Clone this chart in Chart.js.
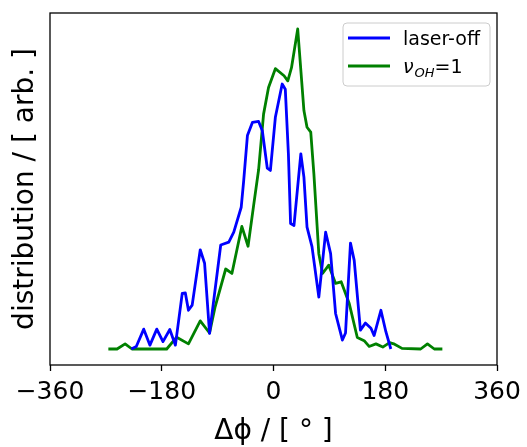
<!DOCTYPE html>
<html>
<head>
<meta charset="utf-8">
<script src="https://cdn.jsdelivr.net/npm/chart.js@4.4.0/dist/chart.umd.min.js"></script>
<style>
  html, body { margin: 0; padding: 0; background: #fff; }
</style>
</head>
<body>
<canvas id="chart" width="527" height="447"></canvas>
<script>
// laser-off (blue)
const laserOffDeg = [-229, -221, -209, -199, -188, -178, -167, -158, -147, -142, -137, -131, -118, -111, -103, -85,
  -72, -64, -52, -48, -42, -34, -24, -18, -10, -5, 3, 14, 19, 24, 27.5, 33, 44, 49, 54, 62, 73, 84, 92, 100,
  111, 116, 124, 130, 140, 148, 157, 162, 173, 181, 189];
const laserOffDist = [0, 0.8, 6.2, 1.2, 6.2, 2.3, 6.1, 1.2, 17.4, 17.5, 12.1, 13.7, 31.0, 26.8, 4.9, 32.5,
  33.4, 36.5, 44.3, 52.6, 66.7, 70.8, 71.1, 68.2, 56.5, 55.8, 72.4, 82.8, 81.2, 61.0, 39.2, 38.6, 61.0, 53.7, 38.1, 32.0, 16.2, 36.5, 29.8, 11.1,
  2.8, 5.0, 33.1, 27.7, 5.9, 8.1, 6.5, 4.2, 12.1, 5.4, 0];

// nu_OH = 1 (green)
const vohDeg = [-266, -252, -239, -228, -172, -156, -137, -118, -103, -94, -77, -67, -51, -41, -32, -24, -16, -8,
  3, 17, 23, 29, 39, 49, 54, 60, 65, 73, 79, 89, 100, 109, 122, 135, 146, 154, 165, 176, 187, 195, 207,
  237, 248, 259, 272];
const vohDist = [0, 0, 1.6, 0, 0, 3.7, 1.6, 8.8, 5.0, 13.2, 25.0, 23.6, 38.3, 32.1, 44.9, 56.0, 73.4, 81.7,
  87.6, 85.4, 83.8, 87.9, 100, 74.5, 69.3, 67.8, 54.9, 29.8, 23.6, 26.2, 20.5, 21.0, 14.2, 3.6, 2.6, 0.8, 1.6, 0.6, 2.0, 1.5, 0.2,
  0, 1.6, 0, 0];

const xTicks = [-360, -180, 0, 180, 360];

const FONT = 'DejaVu Sans';
const toPoints = (xs, ys) => xs.map((x, i) => ({ x, y: ys[i] }));
const fmtTick = (v) => (v < 0 ? '\u2212' + Math.abs(v) : String(v));

// top/right spines and the legend box
const framePlugin = {
  id: 'frame',
  afterDraw(chart) {
    const { ctx, chartArea: a } = chart;
    ctx.save();
    ctx.strokeStyle = '#000';
    ctx.lineWidth = 1.3;
    ctx.strokeRect(a.left, a.top, a.right - a.left, a.bottom - a.top);

    // legend
    const bx = a.right - 154, by = a.top + 10, bw = 147, bh = 63;
    ctx.fillStyle = 'rgba(255,255,255,0.8)';
    ctx.strokeStyle = '#cccccc';
    ctx.lineWidth = 1;
    ctx.beginPath();
    ctx.roundRect(bx, by, bw, bh, 4);
    ctx.fill();
    ctx.stroke();

    const rows = [{ color: '#0000ff', y: by + 15 }, { color: '#008000', y: by + 43 }];
    rows.forEach(r => {
      ctx.strokeStyle = r.color;
      ctx.lineWidth = 3;
      ctx.beginPath();
      ctx.moveTo(bx + 5, r.y);
      ctx.lineTo(bx + 47, r.y);
      ctx.stroke();
    });

    ctx.fillStyle = '#000';
    ctx.textBaseline = 'alphabetic';
    const tx = bx + 60;
    ctx.font = '19px "' + FONT + '"';
    ctx.fillText('laser-off', tx, rows[0].y + 7);

    let x = tx;
    const base = rows[1].y + 7;
    ctx.font = 'italic 19px "' + FONT + '"';
    ctx.fillText('\u03bd', x, base);
    x += ctx.measureText('\u03bd').width + 1;
    ctx.font = 'italic 13px "' + FONT + '"';
    ctx.fillText('OH', x, base + 4);
    x += ctx.measureText('OH').width;
    ctx.font = '19px "' + FONT + '"';
    ctx.fillText('=1', x, base);
    ctx.restore();
  }
};

new Chart(document.getElementById('chart'), {
  type: 'line',
  data: {
    datasets: [
      {
        label: 'laser-off',
        data: toPoints(laserOffDeg, laserOffDist),
        borderColor: '#0000ff',
        borderWidth: 2.8,
        pointRadius: 0,
        tension: 0,
        borderJoinStyle: 'round'
      },
      {
        label: '\u03bdOH=1',
        data: toPoints(vohDeg, vohDist),
        borderColor: '#008000',
        borderWidth: 2.8,
        pointRadius: 0,
        tension: 0,
        borderJoinStyle: 'round'
      }
    ]
  },
  options: {
    responsive: false,
    animation: false,
    devicePixelRatio: 1,
    layout: { padding: { top: 13, right: 30, left: 0, bottom: 0 } },
    plugins: {
      legend: { display: false },
      tooltip: { enabled: false }
    },
    scales: {
      x: {
        type: 'linear',
        min: -360,
        max: 360,
        afterBuildTicks: (s) => { s.ticks = xTicks.map(v => ({ value: v })); },
        afterFit: (s) => { s.height = 82; },
        grid: { drawOnChartArea: false, drawTicks: true, tickLength: 6, tickWidth: 1.3, tickColor: '#000' },
        border: { display: false },
        ticks: {
          color: '#000',
          padding: 6,
          maxRotation: 0,
          font: { family: FONT, size: 25 },
          callback: fmtTick
        },
        title: {
          display: true,
          text: '\u0394\u03d5 / [ \u00b0 ]',
          color: '#000',
          font: { family: FONT, size: 28, lineHeight: 1.0 },
          padding: { top: 0, bottom: 1 }
        }
      },
      y: {
        min: -5,
        max: 105,
        afterFit: (s) => { s.width = 50; },
        grid: { display: false },
        border: { display: false },
        ticks: { display: false },
        title: {
          display: true,
          text: 'distribution / [ arb. ]',
          color: '#000',
          font: { family: FONT, size: 28, lineHeight: 1.0 },
          padding: { top: 12, bottom: 0 }
        }
      }
    }
  },
  plugins: [framePlugin]
});
</script>
</body>
</html>
